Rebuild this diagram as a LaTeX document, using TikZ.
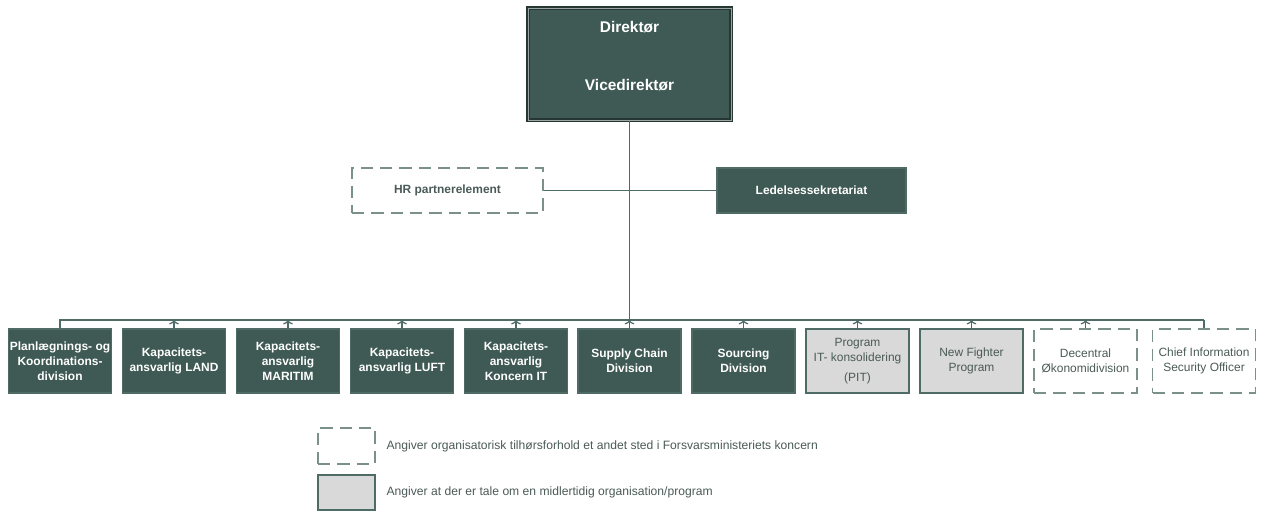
\documentclass[tikz,border=0pt]{standalone}
\usepackage{fontspec}
\setmainfont{Liberation Sans}
\usetikzlibrary{arrows.meta}

\definecolor{forsgreen}{HTML}{3F5A54}
\definecolor{forsline}{HTML}{4F6B65}
\definecolor{forsgray}{HTML}{D9D9D9}
\definecolor{forstext}{HTML}{4A5A56}

\begin{document}
\begin{tikzpicture}[x=0.02cm,y=-0.02cm,line width=0.7pt,
  unit/.style={rectangle,draw=forsline,fill=forsgreen,text=white,align=center,
    font=\bfseries\fontsize{6.8}{8.6}\selectfont,inner sep=1pt,
    minimum width=2.06cm,minimum height=1.28cm},
  temp unit/.style={unit,fill=forsgray,text=forstext,font=\fontsize{6.8}{8.6}\selectfont},
  ext unit/.style={unit,fill=none,draw=forsline!75,text=forstext,dash pattern=on 7pt off 4pt,
    font=\fontsize{6.8}{8.6}\selectfont},
  legend text/.style={anchor=west,text=forstext,font=\fontsize{6.9}{8}\selectfont,inner sep=0pt}]
\tikzstyle{uplink} = [draw=forsline,-{To[length=2.5pt,width=5.5pt]}]
\tikzstyle{link} = [draw=forsline]

\useasboundingbox (0,0) rectangle (1262,511);

% Top management
\node[unit,minimum width=4.06cm,minimum height=2.24cm,draw=forsgreen!60!black,line width=1pt,
  double=forsgray!60!forsgreen,double distance=0.4pt] (dir) at (629.5,64) {};
\node[text=white,font=\bfseries\fontsize{8.8}{10}\selectfont] (dirname) at (629.5,27) {Direktør};
\node[text=white,font=\bfseries\fontsize{8.8}{10}\selectfont] (vicename) at (629.5,85) {Vicedirektør};

% Staff functions
\node[ext unit,minimum width=3.82cm,minimum height=0.9cm,font=\bfseries\fontsize{6.8}{8.6}\selectfont] (hr) at (447.5,190.5) {HR partnerelement};
\node[unit,minimum width=3.78cm,minimum height=0.9cm] (sekr) at (811.5,190.5) {Ledelsessekretariat};

% Divisions
\node[unit] (plan) at (60,361) {Planlægnings- og\\Koordinations-\\division};
\node[unit] (land) at (174,361) {Kapacitets-\\ansvarlig LAND};
\node[unit] (maritim) at (288,361) {Kapacitets-\\ansvarlig\\MARITIM};
\node[unit] (luft) at (402,361) {Kapacitets-\\ansvarlig LUFT};
\node[unit] (koncernit) at (516,361) {Kapacitets-\\ansvarlig\\Koncern IT};
\node[unit] (supply) at (629.5,361) {Supply Chain\\Division};
\node[unit] (sourcing) at (743.5,361) {Sourcing\\Division};
\node[temp unit] (pit) at (857.5,361) {Program\\IT- konsolidering\\[3pt](PIT)};
\node[temp unit] (fighter) at (971.5,361) {New Fighter\\Program};
\node[ext unit] (oekonomi) at (1085.5,361) {Decentral\\Økonomidivision};
\node[ext unit] (ciso) at (1204,361) {Chief Information\\Security Officer};

% Bus
\coordinate (busL) at (60,320);
\coordinate (busR) at (1204,320);
\coordinate (busM) at (629.5,320);

% Connectors
\draw[link] (dir) -- (busM);
\draw[link] (hr) -- (sekr);
\draw[link] (plan) |- (busR);
\draw[link] (ciso) -- (busR);
\draw[uplink] (land) -- (land |- busL);
\draw[uplink] (maritim) -- (maritim |- busL);
\draw[uplink] (luft) -- (luft |- busL);
\draw[uplink] (koncernit) -- (koncernit |- busL);
\draw[uplink] (supply) -- (supply |- busL);
\draw[uplink] (sourcing) -- (sourcing |- busL);
\draw[uplink] (pit) -- (pit |- busL);
\draw[uplink] (fighter) -- (fighter |- busL);
\draw[uplink] (oekonomi) -- (oekonomi |- busL);

% Legend
\node[ext unit,minimum width=1.14cm,minimum height=0.72cm] (legext) at (346.5,446) {};
\node[temp unit,minimum width=1.14cm,minimum height=0.7cm] (legtemp) at (346.5,492.5) {};
\node[legend text] (legexttext) at (386,446) {Angiver organisatorisk tilhørsforhold et andet sted i Forsvarsministeriets koncern};
\node[legend text] (legtemptext) at (386,492) {Angiver at der er tale om en midlertidig organisation/program};

\end{tikzpicture}
\end{document}
